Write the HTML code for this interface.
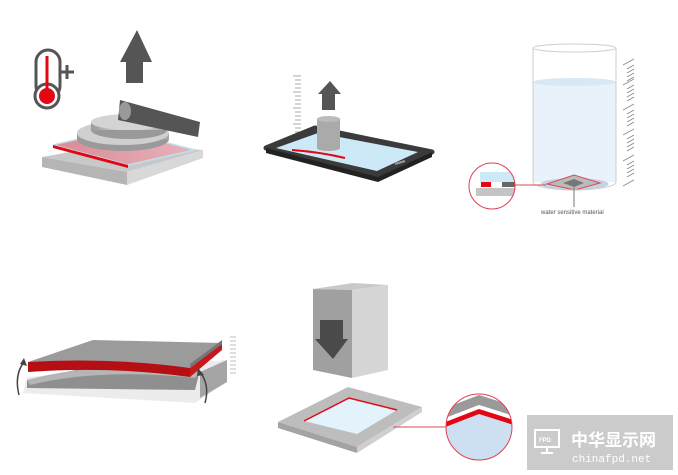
<!DOCTYPE html>
<html><head><meta charset="utf-8"><style>
html,body{margin:0;padding:0;background:#fff;width:678px;height:475px;overflow:hidden}
svg{display:block}
</style></head><body>
<svg width="678" height="475" viewBox="0 0 678 475" xmlns="http://www.w3.org/2000/svg">
<defs>
<linearGradient id="disc" x1="0" x2="1"><stop offset="0" stop-color="#9a9a9a"/><stop offset="0.5" stop-color="#e2e2e2"/><stop offset="1" stop-color="#a8a8a8"/></linearGradient>
<linearGradient id="pink" x1="0" x2="1"><stop offset="0" stop-color="#d98a95"/><stop offset="1" stop-color="#e7b3bb"/></linearGradient>
<clipPath id="c1"><ellipse cx="479" cy="427" rx="33" ry="33"/></clipPath>
<clipPath id="c2"><circle cx="492" cy="186" r="23"/></clipPath>
</defs>

<!-- Scene 1 -->
<g>
 <rect x="36" y="50" width="24" height="48" rx="12" fill="#fff" stroke="#555" stroke-width="3"/>
 <circle cx="47" cy="96" r="12" fill="#fff" stroke="#555" stroke-width="3"/>
 <circle cx="47" cy="96" r="8" fill="#e30613"/>
 <rect x="45.5" y="56" width="3" height="36" fill="#e30613"/>
 <path d="M67 65v14M60 72h14" stroke="#555" stroke-width="3"/>
 <polygon points="137,30 152,62 143,62 143,83 126,83 126,62 120,62" fill="#555"/>
 <polygon points="42,157 120,143 203,150 127,172" fill="#c8c8c8"/>
 <polygon points="42,157 127,172 127,185 42,167" fill="#b5b5b5"/>
 <polygon points="127,172 203,150 203,158 127,185" fill="#d8d8d8"/>
 <polygon points="53,145 117,130 195,150 128,165" fill="url(#pink)" stroke="#bfe0f3" stroke-width="1.5"/>
 <polygon points="53,145 128,165 128,168 53,148" fill="#e30613"/>
 <ellipse cx="123" cy="139" rx="46" ry="12" fill="#9a9a9a"/>
 <rect x="77" y="133" width="92" height="6" fill="url(#disc)"/>
 <ellipse cx="123" cy="133" rx="46" ry="12" fill="#cfcfcf"/>
 <ellipse cx="129" cy="130" rx="38" ry="9" fill="#999"/>
 <rect x="91" y="122" width="76" height="8" fill="url(#disc)"/>
 <ellipse cx="129" cy="122" rx="38" ry="8" fill="#d4d4d4"/>
 <polygon points="120,100 200,122 198,137 118,120" fill="#555"/>
 <ellipse cx="125" cy="111" rx="6" ry="9" fill="#999"/>
</g>

<!-- Scene 2 phone -->
<g>
 <g stroke="#aaa" stroke-width="1">
  <path d="M293 76h8M295 80h6M295 84h6M295 88h6M293 92h8M295 96h6M295 100h6M295 104h6M293 108h8M295 112h6M295 116h6M295 120h6M293 124h8M295 128h6M295 132h6"/>
 </g>
 <polygon points="266,148 315,128 432,152 378,177" fill="#3b3b3b" stroke="#3b3b3b" stroke-width="5" stroke-linejoin="round"/>
 <polygon points="266,153 378,182 432,157 432,152 378,177 266,148" fill="#222"/>
 <polygon points="276,148 318,133 418,152 377,171" fill="#cde9f7"/>
 <path d="M292 150 Q320 152 345 158" stroke="#e30613" stroke-width="2" fill="none"/>
 <path d="M395 164 l10 -3" stroke="#999" stroke-width="2"/>
 <polygon points="330,81 341,94 335,94 335,110 322,110 322,94 318,94" fill="#555"/>
 <rect x="317" y="119" width="23" height="29" fill="#aaa"/>
 <ellipse cx="328.5" cy="148" rx="11.5" ry="3" fill="#aaa"/>
 <ellipse cx="328.5" cy="119" rx="11.5" ry="3" fill="#bbb"/>
</g>

<!-- Scene 3 beaker -->
<g>
 <rect x="533" y="82" width="83" height="100" fill="#e9f2fb"/>
 <ellipse cx="574.5" cy="82" rx="41.5" ry="4" fill="#d7e8f7"/>
 <ellipse cx="574.5" cy="184" rx="34" ry="6" fill="#c3d3e2"/>
 <polygon points="547,184 574,175 600,183 575,190" fill="#bbb" stroke="#d94c55" stroke-width="1"/>
 <polygon points="563,183 574,179 584,183 574,187" fill="#777"/>
 <path d="M533 48 V182 A41.5 8 0 0 0 616 182 V48" fill="none" stroke="#ccc" stroke-width="1"/>
 <ellipse cx="574.5" cy="48" rx="41.5" ry="4" fill="none" stroke="#ccc" stroke-width="1"/>
 <g stroke="#888" stroke-width="0.8">
  <path d="M623 65l11-6M627 69l7-4M627 73l7-4M627 77l7-4M627 81l7-4M623 85l11-6M627 89l7-4M627 93l7-4M627 97l7-4M627 101l7-4M623 110l11-6M627 114l7-4M627 118l7-4M627 122l7-4M627 126l7-4M623 135l11-6M627 139l7-4M627 143l7-4M627 147l7-4M627 151l7-4M623 161l11-6M627 165l7-4M627 169l7-4M627 173l7-4M627 177l7-4M623 186l11-6"/>
 </g>
 <path d="M515 185 H546" stroke="#d94c55" stroke-width="1"/>
 <path d="M574 187 V207" stroke="#777" stroke-width="1"/>
 <text x="541" y="214" font-family="Liberation Sans, sans-serif" font-size="6" fill="#555">water sensitive material</text>
 <g clip-path="url(#c2)">
  <rect x="480" y="172" width="35" height="10" fill="#cde9f7"/>
  <rect x="481" y="182" width="10" height="5" fill="#e30613"/>
  <rect x="502" y="182" width="15" height="5" fill="#666"/>
  <rect x="476" y="188" width="40" height="8" fill="#c4c4c4"/>
 </g>
 <circle cx="492" cy="186" r="23" fill="none" stroke="#e04050" stroke-width="1"/>
</g>

<!-- Scene 4 bending -->
<g>
 <polygon points="27,377 200,362 227,360 227,382 195,403 23,393" fill="#ececec"/>
 <polygon points="27,380 100,365 200,370 195,390 27,388" fill="#8f8f8f"/>
 <path d="M27 380 Q100 360 200 372 L195 378 Q100 368 30 385Z" fill="#b5b5b5"/>
 <polygon points="200,372 227,360 227,382 200,398" fill="#a5a5a5"/>
 <polygon points="28,362 93,340 222,343 190,368 Q110 358 28,362" fill="#9b9b9b"/>
 <path d="M28 362 Q110 357 190 368 L190 377 Q110 366 28 372Z" fill="#b50e13"/>
 <polygon points="190,368 222,343 222,350 190,377" fill="#c41a1f"/>
 <polygon points="190,364 222,340 222,344 190,368" fill="#777"/>
 <g stroke="#aaa" stroke-width="0.8"><path d="M230 337h6M230 341h6M230 345h6M230 349h6M230 353h6M230 357h6M230 361h6M230 365h6M230 369h6M230 373h6"/></g>
 <path d="M19 395 Q14 375 24 362" stroke="#444" stroke-width="1.5" fill="none"/>
 <polygon points="24,358 27,366 20,364" fill="#444"/>
 <path d="M205 403 Q210 385 200 372" stroke="#444" stroke-width="1.5" fill="none"/>
 <polygon points="198,368 204,375 197,376" fill="#444"/>
</g>

<!-- Scene 5 press -->
<g>
 <polygon points="313,289 353,283 388,285 352,290" fill="#c9c9c9"/>
 <polygon points="313,289 352,290 352,378 313,370" fill="#a0a0a0"/>
 <polygon points="352,290 388,285 388,370 352,378" fill="#d6d6d6"/>
 <polygon points="320,320 343,320 343,339 348,339 333,359 315,339 320,339" fill="#4a4a4a"/>
 <polygon points="278,422 348,387 422,407 357,447" fill="#bdbdbd"/>
 <polygon points="278,422 357,447 357,453 278,428" fill="#a3a3a3"/>
 <polygon points="357,447 422,407 422,412 357,453" fill="#cfcfcf"/>
 <polygon points="304,421 349,398 397,410 357,434" fill="#e3f3fb"/>
 <path d="M304 421 L349 398 L397 410" stroke="#e30613" stroke-width="1.5" fill="none"/>
 <path d="M393 427 H446" stroke="#d94c55" stroke-width="1"/>
 <g clip-path="url(#c1)">
  <rect x="440" y="390" width="80" height="80" fill="#fff"/>
  <polygon points="440,430 479,402 520,420 520,470 440,470" fill="#cde0f2"/>
  <polygon points="440,410 479,395 520,408 520,418 479,405 440,420" fill="#9a9a9a"/>
  <polygon points="440,420 479,405 520,418 520,422 479,409 440,424" fill="#fff"/>
  <polygon points="440,424 479,409 520,422 520,427 479,414 440,429" fill="#e30613"/>
 </g>
 <ellipse cx="479" cy="427" rx="33" ry="33" fill="none" stroke="#e04050" stroke-width="1"/>
</g>

<!-- Watermark -->
<rect x="527" y="415" width="146" height="55" fill="#cbcbcb"/>
<rect x="535" y="430" width="24" height="17" fill="none" stroke="#fff" stroke-width="2"/>
<text x="539" y="442" font-family="Liberation Sans, sans-serif" font-size="6" fill="#fff" font-weight="bold">FPD</text>
<path d="M547 447v5M541 453h12" stroke="#fff" stroke-width="2"/>
<text x="571" y="446" font-family="Liberation Sans, 'Noto Sans CJK SC', sans-serif" font-size="17" font-weight="bold" fill="#fff">中华显示网</text>
<text x="572" y="462" font-family="Liberation Mono, monospace" font-size="11" fill="#fff">chinafpd.net</text>
</svg>
</body></html>
